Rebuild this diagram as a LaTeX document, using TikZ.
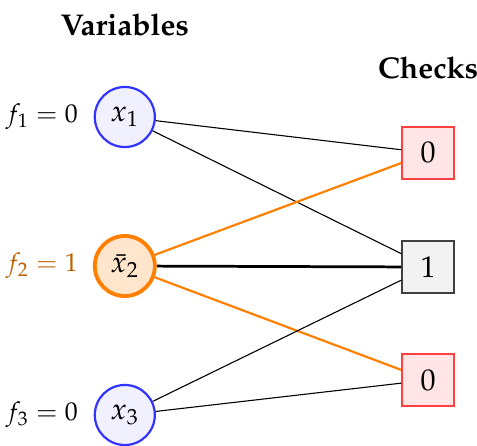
\documentclass[tikz,border=0pt]{standalone}
\usepackage[T1]{fontenc}
\usepackage{mathpazo}
\newcommand{\bigtxt}{\fontsize{10.95}{13.6}\selectfont}
\newcommand{\lbltxt}{\fontsize{9.4}{11.5}\selectfont}
\begin{document}
\begin{tikzpicture}[
   var/.style={circle,draw=blue!80,fill=blue!6,line width=0.8pt,minimum size=0.77cm,inner sep=0pt,font=\bigtxt},
   flip/.style={circle,draw=orange,fill=orange!20,line width=1.4pt,minimum size=0.77cm,inner sep=0pt,font=\bigtxt},
   chk/.style={rectangle,draw=red!75,fill=red!10,line width=0.75pt,minimum size=0.67cm,inner sep=0pt,font=\bigtxt},
   sat/.style={rectangle,draw=black!75,fill=black!5,line width=0.75pt,minimum size=0.67cm,inner sep=0pt,font=\bigtxt},
   lbl/.style={anchor=east,font=\lbltxt},
   edge/.style={black,line width=0.4pt},
   hot/.style={orange,line width=0.8pt}]
   \useasboundingbox (0,0) rectangle (6.115,5.705);
   \node [font=\bigtxt\bfseries] (vars) at (1.6,5.385) {Variables};
   \node [font=\bigtxt\bfseries] (checks) at (5.49,4.833) {Checks};
   \node [var] (x1) at (1.6,4.205) {$x_1$};
   \node [flip] (x2) at (1.6,2.295) {$\bar{x}_2$};
   \node [var] (x3) at (1.6,0.385) {$x_3$};
   \node [lbl] (f1) at (1.12,4.205) {$f_1 = 0$};
   \node [lbl,text=orange!75!black] (f2) at (1.12,2.295) {$f_2 = 1$};
   \node [lbl] (f3) at (1.12,0.385) {$f_3 = 0$};
   \node [chk] (c1) at (5.49,3.744) {$0$};
   \node [sat] (c2) at (5.49,2.282) {$1$};
   \node [chk] (c3) at (5.49,0.833) {$0$};
   % edges of the graph
   \draw [edge] (x1) -- (c1);
   \draw [edge] (x1) -- (c2);
   \draw [hot] (x2) -- (c1);
   \draw [black,line width=1pt] (x2) -- (c2);
   \draw [hot] (x2) -- (c3);
   \draw [edge] (x3) -- (c2);
   \draw [edge] (x3) -- (c3);
\end{tikzpicture}
\end{document}
